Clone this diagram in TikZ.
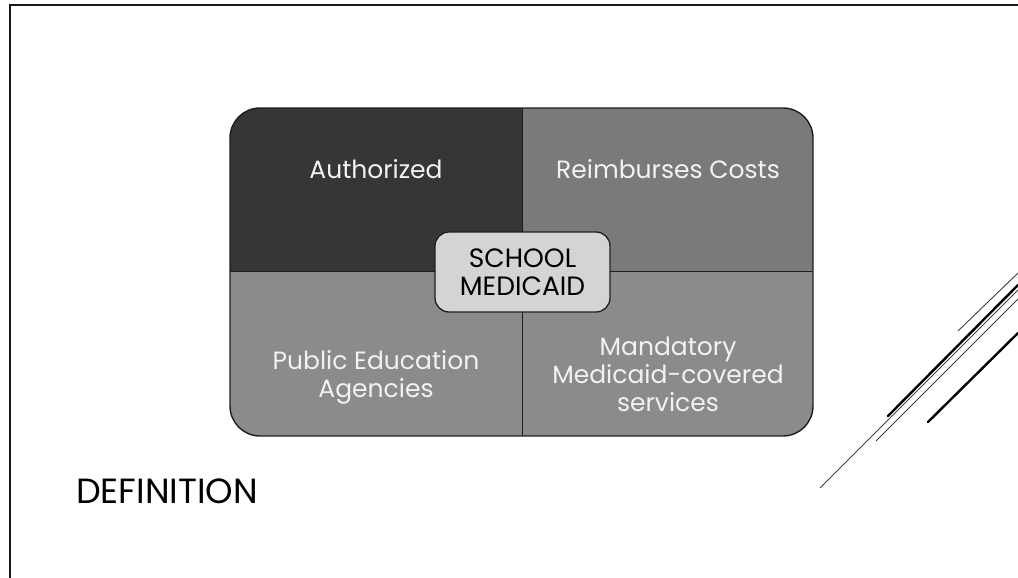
\documentclass[tikz,border=0pt]{standalone}
\usepackage{fontspec}
\setmainfont{Poppins}
\definecolor{qdark}{HTML}{363636}
\definecolor{qmid}{HTML}{7A7A7A}
\definecolor{qlight}{HTML}{8B8B8B}
\definecolor{qtext}{HTML}{F2F2F2}
\definecolor{cfill}{HTML}{D4D4D4}
\definecolor{edge}{HTML}{1E1E1E}
\begin{document}
\begin{tikzpicture}[x=1pt,y=-1pt,
  qlabel/.style={text=qtext, align=center, anchor=base, inner sep=0pt,
    font=\fontsize{25}{28}\selectfont},
  centerbox/.style={draw=edge, line width=1.3pt, fill=cfill, rounded corners=14pt,
    minimum width=175pt, minimum height=80pt, align=center, inner sep=0pt,
    font=\fontsize{26.5}{28}\selectfont},
  thinline/.style={draw=black!75, line width=0.9pt},
  thickline/.style={draw=black, line width=2.4pt, line cap=round}]
\useasboundingbox (0,0) rectangle (1018,578);
\fill[white] (0,0) rectangle (1018,578);
% frame
\draw[line width=2.8pt, black!90] (10,578) -- (10,5) -- (1018,5);
% matrix quadrants
\begin{scope}
  \clip[rounded corners=30pt] (230,108) rectangle (813,436);
  \fill[qdark]  (230,108) rectangle (522,271);
  \fill[qmid]   (522,108) rectangle (813,271);
  \fill[qlight] (230,271) rectangle (522,436);
  \fill[qlight] (522,271) rectangle (813,436);
\end{scope}
\draw[edge, line width=1pt] (522,108) -- (522,436);
\draw[edge, line width=1pt] (230,271) -- (813,271);
\draw[edge, line width=1.4pt, rounded corners=30pt] (230,108) rectangle (813,436);
% labels (base anchor = baseline of last line)
\node[qlabel] (auth) at (376,178) {Authorized};
\node[qlabel] (reimb) at (668,178) {Reimburses Costs};
\node[qlabel] (pub) at (376,397) {Public Education\\Agencies};
\node[qlabel] (mand) at (668,411) {Mandatory\\Medicaid-covered\\services};
\node[centerbox] (school) at (522.5,272) {SCHOOL\\MEDICAID};
% title
\node[anchor=base west, inner sep=0pt, font=\fontsize{35}{40}\selectfont] (def) at (76,503) {DEFINITION};
% decorative lines
\draw[thinline] (958,331) -- (1018,273);
\draw[thickline] (888,416) -- (1018,285);
\draw[thinline] (820,488) -- (1018,290);
\draw[thinline] (876,441) -- (1018,299);
\draw[thickline] (928,422) -- (1018,333);
\end{tikzpicture}
\end{document}
